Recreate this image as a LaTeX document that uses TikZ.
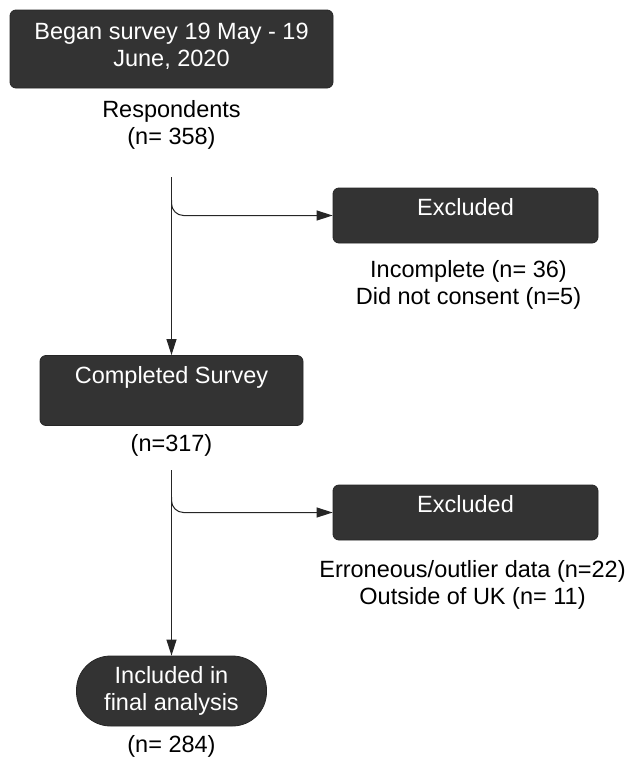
\documentclass[tikz,border=0pt]{standalone}
\usepackage{fontspec}
\setmainfont{Liberation Sans}
\usetikzlibrary{arrows.meta, positioning}
\definecolor{boxgray}{RGB}{51,51,51}

\begin{document}
\begin{tikzpicture}[
    x=1pt, y=1pt,
    darkbox/.style={draw=black!85, line width=0.8pt, rounded corners=6pt, fill=boxgray, text=white, align=center, font=\fontsize{23.5}{27}\selectfont},
    lbl/.style={align=center, inner sep=0pt, font=\fontsize{23.5}{27}\selectfont},
    flow/.style={->, line width=1pt, black!85},
    >={Triangle[length=16pt, width=10pt]}]
  \useasboundingbox (0,0) rectangle (632,-758);
  \node[darkbox, minimum width=323pt, minimum height=78pt] (began) at (171.5,-49) {Began survey 19 May - 19\\June, 2020\rule[-9pt]{0pt}{9pt}};
  \node[lbl, below=12pt of began] (resp) {Respondents\\(n= 358)};
  \node[darkbox, minimum width=265pt, minimum height=55pt, text height=16.5pt, text depth=16.5pt] (excl1) at (465.5,-215.5) {Excluded};
  \node[lbl, below=17pt of excl1, xshift=3pt] (excl1txt) {Incomplete (n= 36)\\Did not consent (n=5)};
  \node[darkbox, minimum width=263pt, minimum height=70pt, text height=16.5pt, text depth=30.5pt] (comp) at (171.5,-390.5) {Completed Survey};
  \node[lbl, below=8pt of comp] (n317) {(n=317)};
  \node[darkbox, minimum width=265pt, minimum height=55pt, text height=16.5pt, text depth=16.5pt] (excl2) at (465.5,-512.5) {Excluded};
  \node[lbl, below=20pt of excl2, xshift=7pt] (excl2txt) {Erroneous/outlier data (n=22)\\Outside of UK (n= 11)};
  \node[darkbox, rounded corners=34pt, minimum width=190pt, minimum height=70pt] (incl) at (171.5,-691) {Included in\\final analysis};
  \node[lbl, below=9pt of incl] (n284) {(n= 284)};
  \coordinate (s1) at (171.5,-177);
  \coordinate (b1) at (171.5,-200);
  \coordinate (s2) at (171.5,-470);
  \coordinate (b2) at (171.5,-497);
  \draw[flow] (s1) -- (comp.north);
  \draw[flow, rounded corners=12pt] (b1) |- (excl1.west);
  \draw[flow] (s2) -- (incl.north);
  \draw[flow, rounded corners=12pt] (b2) |- (excl2.west);
\end{tikzpicture}
\end{document}
